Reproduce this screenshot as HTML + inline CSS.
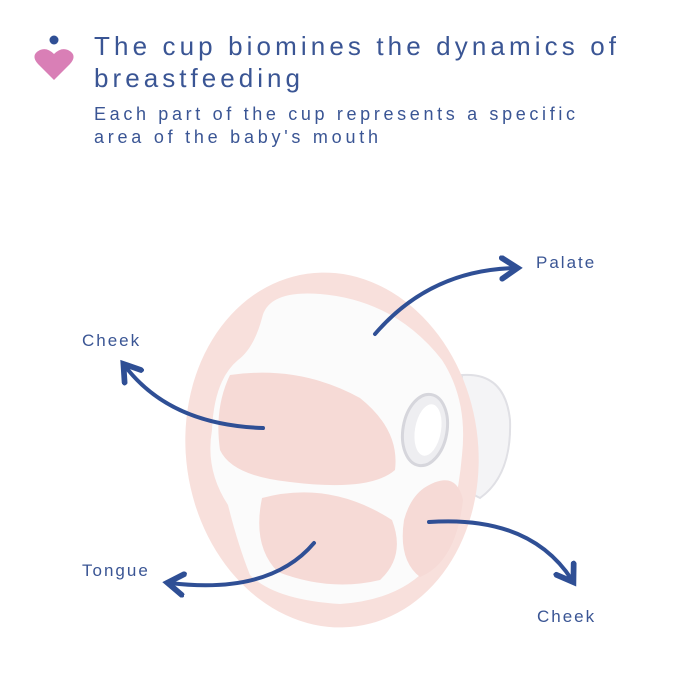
<!DOCTYPE html>
<html><head><meta charset="utf-8"><style>
html,body{margin:0;padding:0;background:#fff;}
svg{display:block;}
text{font-family:"Liberation Sans",sans-serif;fill:#3a5594;}
</style></head><body>
<svg width="700" height="700" viewBox="0 0 700 700" xmlns="http://www.w3.org/2000/svg">
<defs>
<marker id="ah" viewBox="0 0 10 10" refX="6" refY="5" markerWidth="6.5" markerHeight="6.5" orient="auto">
<path d="M1,1 L7,5 L1,9" fill="none" stroke="#2f4f95" stroke-width="2.2" stroke-linecap="round"/>
</marker>
</defs>
<circle cx="54" cy="40" r="4.5" fill="#2f4f95"/>
<path d="M54,80 L38,64 Q30,55 40,50 Q47,47 54,54 Q61,47 68,50 Q78,55 70,64 Z" fill="#d97fb6"/>
<text x="94" y="55" font-size="26" textLength="522" lengthAdjust="spacing">The cup biomines the dynamics of</text>
<text x="94" y="87" font-size="26" textLength="206" lengthAdjust="spacing">breastfeeding</text>
<text x="94" y="120" font-size="18" textLength="481" lengthAdjust="spacing">Each part of the cup represents a specific</text>
<text x="94" y="143" font-size="18" textLength="284" lengthAdjust="spacing">area of the baby's mouth</text>
<g>
<path d="M462,375 Q505,372 510,420 Q512,475 480,498 L455,485 Z" fill="#f4f4f6" stroke="#e0e0e5" stroke-width="2"/>
<ellipse cx="332" cy="450" rx="146" ry="178" transform="rotate(-8 332 450)" fill="#f8e0dc"/>
<path d="M262,318 Q268,290 320,294 Q395,300 442,360 Q468,400 462,455 Q456,525 430,565 Q400,600 340,604 Q275,600 250,575 Q238,545 228,505 Q205,470 212,430 Q214,380 238,360 Q254,348 262,318 Z" fill="#fbfbfb"/>
<path d="M230,375 Q300,365 360,398 Q400,430 395,470 Q370,492 290,482 Q232,476 220,450 Q214,408 230,375 Z" fill="#f6dad6"/>
<path d="M262,498 Q330,480 392,520 Q406,556 380,580 Q330,592 278,572 Q252,546 262,498 Z" fill="#f6dad6"/>
<path d="M424,488 Q456,468 463,500 Q456,562 420,577 Q398,560 404,520 Q410,498 424,488 Z" fill="#f6dad6"/>
<ellipse cx="425" cy="430" rx="22" ry="36" transform="rotate(10 425 430)" fill="#eeeef1" stroke="#d6d6dc" stroke-width="3"/>
<ellipse cx="428" cy="430" rx="13" ry="26" transform="rotate(10 428 430)" fill="#fff"/>
</g>
<g fill="none" stroke="#2f4f95" stroke-width="4" stroke-linecap="round">
<path d="M375,334 Q430,270 515,268" marker-end="url(#ah)"/>
<path d="M263,428 Q170,425 125,366" marker-end="url(#ah)"/>
<path d="M314,543 Q270,595 170,583" marker-end="url(#ah)"/>
<path d="M429,522 Q530,515 572,580" marker-end="url(#ah)"/>
</g>
<text x="536" y="268" font-size="17" letter-spacing="2">Palate</text>
<text x="82" y="346" font-size="17" letter-spacing="2">Cheek</text>
<text x="82" y="576" font-size="17" letter-spacing="2">Tongue</text>
<text x="537" y="622" font-size="17" letter-spacing="2">Cheek</text>
</svg>
</body></html>
